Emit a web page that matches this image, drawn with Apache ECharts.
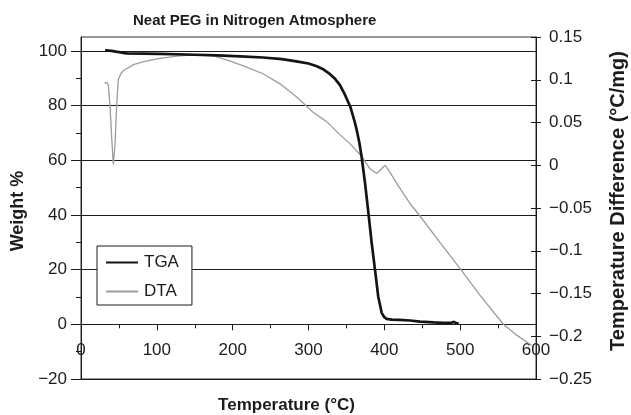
<!DOCTYPE html>
<html>
<head>
<meta charset="utf-8">
<script src="https://cdn.jsdelivr.net/npm/echarts@6/dist/echarts.min.js"></script>
<style>
  html, body { margin: 0; padding: 0; background: #fff; }
  #chart { width: 631px; height: 415px; }
</style>
</head>
<body>
<div id="chart"></div>
<script>
// Thermogravimetric (TGA) and differential thermal (DTA) traces of neat PEG
const chartTitle = 'Neat PEG in Nitrogen Atmosphere';
const seriesNames = ['TGA', 'DTA'];

// TGA: temperature (°C) and remaining weight (%)
const tgaTemp = [31.7, 40, 42, 60, 104, 150, 180, 210, 240, 265, 284, 300, 311, 320, 328, 335, 341.5, 348, 355, 360, 363.5, 367, 370, 374.5, 379, 383.3, 387.7, 392, 396.5, 400, 403, 410, 420, 434, 447, 465, 478, 488, 491, 494, 498];
const tgaWeight = [100.2, 100.0, 99.3, 99.1, 98.9, 98.6, 98.4, 98.0, 97.6, 97.0, 96.2, 95.4, 94.4, 93.2, 91.6, 89.8, 87.5, 84.0, 79.7, 75.0, 71.2, 66.5, 61.4, 51.8, 40.8, 29.8, 19.9, 10.1, 4.2, 2.6, 2.0, 1.7, 1.6, 1.4, 1.0, 0.7, 0.5, 0.5, 0.9, 0.6, 0.2];

// DTA: temperature (°C) and temperature difference (°C/mg)
const dtaTemp = [31, 32.5, 34, 36, 38.2, 40.5, 42.6, 44.8, 47, 49.2, 53, 58, 70, 84, 104, 130, 150, 175, 196, 215, 240, 262, 284, 306, 324, 340, 355, 370, 381, 390, 401, 408, 416, 434, 445, 473, 500, 526, 557, 575, 594];
const dtaDiff = [0.096, 0.0975, 0.097, 0.094, 0.070, 0.032, 0.001, 0.023, 0.070, 0.100, 0.108, 0.112, 0.118, 0.1215, 0.125, 0.128, 0.129, 0.128, 0.122, 0.116, 0.107, 0.0955, 0.080, 0.062, 0.051, 0.037, 0.025, 0.0105, -0.004, -0.0097, 0.000, -0.009, -0.021, -0.045, -0.057, -0.090, -0.121, -0.152, -0.186, -0.199, -0.2105];

// Axis tick values
const tempTicks = [0, 100, 200, 300, 400, 500, 600];
const weightTicks = [-20, 0, 20, 40, 60, 80, 100];
const weightMinorTicks = [-10, 10, 30, 50, 70, 90];
const diffTicks = [-0.25, -0.2, -0.15, -0.1, -0.05, 0, 0.05, 0.1, 0.15];

const weightTop = 105.1;
const font = "'Liberation Sans', Arial, Helvetica, sans-serif";
const ink = '#1c1c1c';

const minus = v => String(v).replace('-', '\u2212');

const tgaData = tgaTemp.map((t, i) => [t, tgaWeight[i]]);
const dtaData = dtaTemp.map((t, i) => [t, dtaDiff[i]]);

const chart = echarts.init(document.getElementById('chart'), null, { renderer: 'canvas' });

chart.setOption({
  animation: false,
  backgroundColor: '#fff',
  textStyle: { fontFamily: font, color: ink },
  title: {
    text: chartTitle,
    left: 133,
    top: 13,
    padding: 0,
    textStyle: { fontFamily: font, fontSize: 15, fontWeight: 'bold', color: ink }
  },
  legend: {
    data: seriesNames,
    orient: 'vertical',
    left: 97,
    top: 246,
    padding: [8, 13, 5, 8],
    itemWidth: 32,
    itemHeight: 14,
    itemGap: 12,
    backgroundColor: '#fff',
    borderColor: ink,
    borderWidth: 1,
    borderRadius: 0,
    itemStyle: { opacity: 0 },
    textStyle: { fontFamily: font, fontSize: 17, color: ink, padding: [0, 0, 0, 1] }
  },
  grid: {
    left: 81, right: 95, top: 37, bottom: 36,
    outerBoundsMode: 'none',
    containLabel: false,
    show: true,
    borderColor: '#333',
    borderWidth: 1,
    backgroundColor: '#fff'
  },
  xAxis: {
    type: 'value',
    min: tempTicks[0],
    max: tempTicks[tempTicks.length - 1],
    interval: 100,
    axisLine: { show: true, onZero: true, onZeroAxisIndex: 0, lineStyle: { color: ink, width: 1 } },
    axisTick: { show: true, length: 6, lineStyle: { color: ink } },
    minorTick: { show: true, splitNumber: 2, length: 4, lineStyle: { color: ink } },
    splitLine: { show: false },
    // labels sit just under the zero line, inside the plot frame
    axisLabel: { margin: -37, fontSize: 17, color: ink, fontFamily: font },
    name: 'Temperature (°C)',
    nameLocation: 'middle',
    nameGap: 18,
    nameTextStyle: { fontFamily: font, fontSize: 17, fontWeight: 'bold', color: ink, padding: [0, 44, 0, 0] }
  },
  yAxis: [
    {
      type: 'value',
      position: 'left',
      min: weightTicks[0],
      max: weightTop,
      interval: 20,
      axisLine: { show: true, onZero: false, lineStyle: { color: ink, width: 1 } },
      axisTick: { show: true, length: 10, customValues: weightTicks, lineStyle: { color: ink } },
      axisLabel: { customValues: weightTicks, margin: 14, fontSize: 17, color: ink, fontFamily: font, formatter: v => minus(v) },
      splitLine: { show: true, lineStyle: { color: ink, width: 1 } },
      name: 'Weight %',
      nameLocation: 'middle',
      nameRotate: 90,
      nameGap: 48,
      nameTextStyle: { fontFamily: font, fontSize: 18, fontWeight: 'bold', color: ink, padding: [0, 6, 0, 0] }
    },
    {
      type: 'value',
      position: 'right',
      min: diffTicks[0],
      max: diffTicks[diffTicks.length - 1],
      interval: 0.05,
      axisLine: { show: true, onZero: false, lineStyle: { color: ink, width: 1 } },
      axisTick: { show: true, length: 5, lineStyle: { color: ink } },
      axisLabel: { margin: 13, fontSize: 17, color: ink, fontFamily: font, formatter: v => minus(+v.toFixed(2)) },
      splitLine: { show: false },
      name: 'Temperature Difference (°C/mg)',
      nameLocation: 'middle',
      nameRotate: 90,
      nameGap: 72,
      nameTextStyle: { fontFamily: font, fontSize: 20, fontWeight: 'bold', color: ink, padding: [0, 0, 0, 14] }
    },
    {
      // minor ticks of the weight axis
      type: 'value',
      position: 'left',
      min: weightTicks[0],
      max: weightTop,
      axisLine: { show: false, onZero: false },
      axisTick: { show: true, length: 5, customValues: weightMinorTicks, lineStyle: { color: ink } },
      axisLabel: { show: false },
      splitLine: { show: false }
    },
    {
      // inner half of the crossing ticks on the difference axis
      type: 'value',
      position: 'right',
      min: diffTicks[0],
      max: diffTicks[diffTicks.length - 1],
      interval: 0.05,
      axisLine: { show: false, onZero: false },
      axisTick: { show: true, inside: true, length: 5, lineStyle: { color: ink } },
      axisLabel: { show: false },
      splitLine: { show: false }
    }
  ],
  series: [
    {
      name: seriesNames[0],
      type: 'line',
      yAxisIndex: 0,
      data: tgaData,
      symbol: 'none',
      smooth: false,
      z: 4,
      color: '#141414',
      lineStyle: { color: '#141414', width: 2.7 }
    },
    {
      name: seriesNames[1],
      type: 'line',
      yAxisIndex: 1,
      data: dtaData,
      symbol: 'none',
      smooth: false,
      z: 3,
      color: '#9c9c9c',
      lineStyle: { color: '#9c9c9c', width: 1.3 }
    }
  ]
});
</script>
</body>
</html>
